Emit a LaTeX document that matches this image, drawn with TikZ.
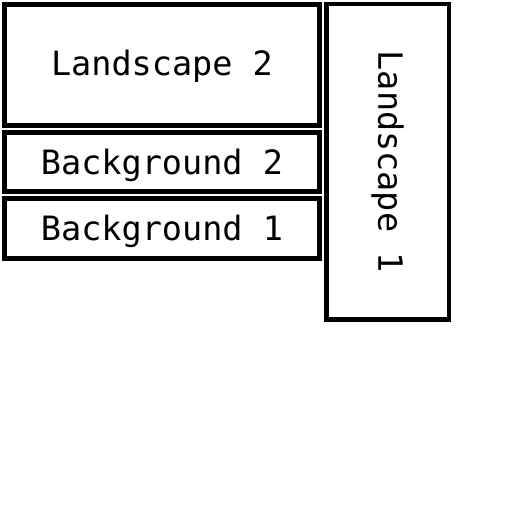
\documentclass[tikz,border=0pt]{standalone}
\usepackage{fontspec}
\newfontfamily\panelfont{DejaVu Sans Mono}
\begin{document}
\begin{tikzpicture}[x=1pt, y=-1pt,
        panel/.style={draw, line width=4.5pt, inner sep=0pt,
                text height=24pt, text depth=0pt,
                font=\panelfont\fontsize{33.5}{40}\selectfont}]

    \useasboundingbox (0, 0) rectangle (512, 512);

    \node[panel, minimum width=315pt, minimum height=121pt, text depth=4pt] (landscape2) at (162, 65) {Landscape 2};
    \node[panel, minimum width=315pt, minimum height=59pt] (background2) at (162, 162) {Background 2};
    \node[panel, minimum width=315pt, minimum height=60pt] (background1) at (162, 228.5) {Background 1};
    \node[panel, rotate=-90, minimum width=315.5pt, minimum height=122.5pt, text depth=5pt] (landscape1) at (387.75, 161.75) {Landscape 1};

\end{tikzpicture}
\end{document}
